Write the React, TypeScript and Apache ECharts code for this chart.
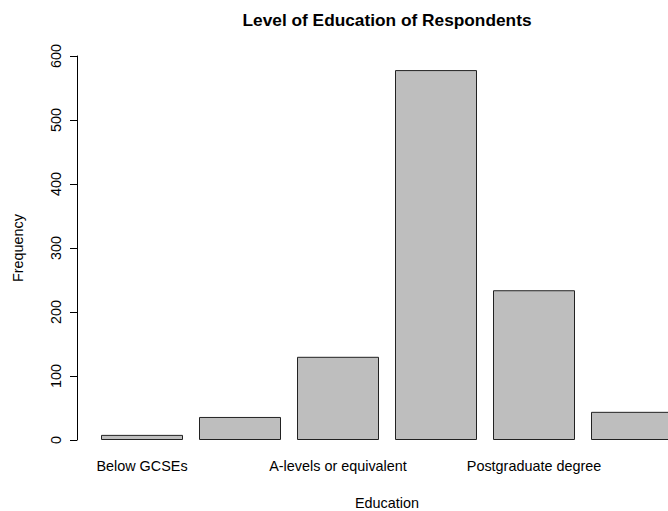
import React, { useEffect, useRef } from "react";
import * as echarts from "echarts";

const categories = [
  "Below GCSEs",
  "GCSEs or equivalent",
  "A-levels or equivalent",
  "Undergraduate degree",
  "Postgraduate degree",
  "Other",
];
const frequencies = [8, 36, 130, 578, 234, 44];
const yTicks = [0, 100, 200, 300, 400, 500, 600];

const FONT = "'Liberation Sans', Arial, sans-serif";

export default function App() {
  const ref = useRef<HTMLDivElement>(null);
  useEffect(() => {
    if (!ref.current) return;
    const chart = echarts.init(ref.current, null, { renderer: "svg" });
    chart.setOption({
      animation: false,
      backgroundColor: "#ffffff",
      grid: { left: 93, right: 19, top: 56, bottom: 71, containLabel: false },
      xAxis: {
        type: "category",
        data: categories,
        axisLine: { show: false },
        axisTick: { show: false },
        axisLabel: {
          interval: 1,
          color: "#000",
          fontSize: 14.4,
          fontFamily: FONT,
          margin: 19,
        },
      },
      yAxis: {
        type: "value",
        min: yTicks[0],
        max: yTicks[yTicks.length - 1],
        interval: 100,
        offset: 16,
        splitLine: { show: false },
        axisLine: { show: true, lineStyle: { color: "#000", width: 1 } },
        axisTick: { show: true, length: 7, lineStyle: { color: "#000" } },
        axisLabel: {
          rotate: 90,
          color: "#000",
          fontSize: 14.4,
          fontFamily: FONT,
          margin: 14,
        },
      },
      series: [
        {
          type: "bar",
          data: frequencies,
          barWidth: 82,
          itemStyle: { color: "#bebebe", borderColor: "#222", borderWidth: 1 },
        },
      ],
      graphic: [
        {
          type: "text",
          x: 387,
          y: 20,
          style: {
            text: "Level of Education of Respondents",
            font: `bold 17.3px ${FONT}`,
            fill: "#000",
            align: "center",
            verticalAlign: "middle",
          },
        },
        {
          type: "text",
          x: 387,
          y: 503,
          style: {
            text: "Education",
            font: `14.4px ${FONT}`,
            fill: "#000",
            align: "center",
            verticalAlign: "middle",
          },
        },
        {
          type: "text",
          x: 18,
          y: 248,
          rotation: Math.PI / 2,
          style: {
            text: "Frequency",
            font: `14.4px ${FONT}`,
            fill: "#000",
            align: "center",
            verticalAlign: "middle",
          },
        },
      ],
    });
    return () => chart.dispose();
  }, []);
  return (
    <div style={{ position: "fixed", left: 0, top: 0, width: 668, height: 511, overflow: "hidden" }}>
      <div ref={ref} style={{ width: 700, height: 511 }} />
    </div>
  );
}
